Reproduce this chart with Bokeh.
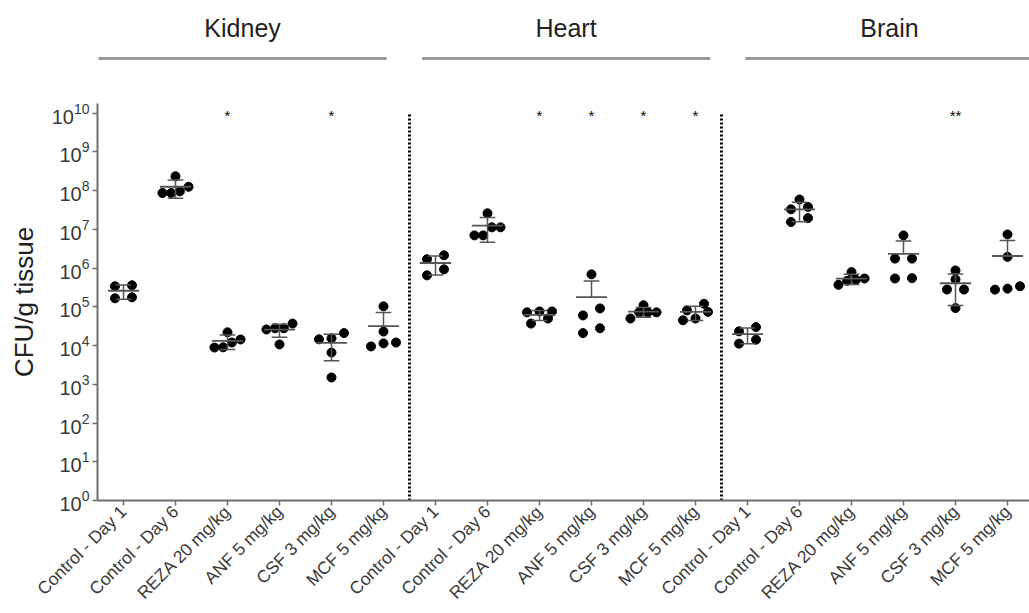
import numpy as np
from bokeh.plotting import figure
from bokeh.layouts import column
from bokeh.models import Range1d, FixedTicker, LogTickFormatter
from bokeh.embed import file_html
from bokeh.resources import INLINE
from bokeh.core.properties import value

# ---------------- data ----------------
organs = ["Kidney", "Heart", "Brain"]
treatments = ["Control - Day 1", "Control - Day 6", "REZA 20 mg/kg",
              "ANF 5 mg/kg", "CSF 3 mg/kg", "MCF 5 mg/kg"]

kidney_control_d1 = [3.6e5, 3.4e5, 1.76e5, 1.66e5]
kidney_control_d6 = [2.35e8, 1.26e8, 9.6e7, 8.7e7, 8.7e7]
kidney_reza20 = [2.2e4, 1.44e4, 1.2e4, 9.0e3, 8.9e3]
kidney_anf5 = [3.7e4, 2.8e4, 2.8e4, 2.6e4, 1.07e4]
kidney_csf3 = [2.1e4, 1.54e4, 1.45e4, 6.6e3, 1.5e3]
kidney_mcf5 = [1.03e5, 2.3e4, 1.2e4, 1.14e4, 9.5e3]

heart_control_d1 = [2.14e6, 1.7e6, 9.3e5, 6.5e5]
heart_control_d6 = [2.6e7, 1.13e7, 1.13e7, 7.0e6, 7.0e6]
heart_reza20 = [7.6e4, 7.6e4, 7.2e4, 5.0e4, 3.7e4]
heart_anf5 = [6.9e5, 9.1e4, 6.0e4, 2.8e4, 2.1e4]
heart_csf3 = [1.1e5, 7.2e4, 7.2e4, 7.2e4, 5.0e4]
heart_mcf5 = [1.2e5, 8.1e4, 7.4e4, 5.0e4, 4.5e4]

brain_control_d1 = [3.0e4, 2.33e4, 1.42e4, 1.12e4]
brain_control_d6 = [5.9e7, 3.8e7, 3.3e7, 1.96e7, 1.55e7]
brain_reza20 = [7.9e5, 5.4e5, 5.0e5, 4.7e5, 3.7e5]
brain_anf5 = [7.0e6, 1.76e6, 1.76e6, 5.5e5, 5.4e5]
brain_csf3 = [8.7e5, 5.1e5, 2.8e5, 2.8e5, 9.3e4]
brain_mcf5 = [7.4e6, 1.95e6, 3.4e5, 2.95e5, 2.78e5]

kidney_sig = ["", "", "*", "", "*", ""]
heart_sig = ["", "", "*", "*", "*", "*"]
brain_sig = ["", "", "", "", "**", ""]

y_tick_exponents = list(range(0, 11))

groups = [
    kidney_control_d1, kidney_control_d6, kidney_reza20, kidney_anf5, kidney_csf3, kidney_mcf5,
    heart_control_d1, heart_control_d6, heart_reza20, heart_anf5, heart_csf3, heart_mcf5,
    brain_control_d1, brain_control_d6, brain_reza20, brain_anf5, brain_csf3, brain_mcf5,
]
sig = kidney_sig + heart_sig + brain_sig
labels = treatments * len(organs)
n_groups = len(groups)
per_organ = len(treatments)

# ---------------- layout constants ----------------
W = 1029
HEADER_H = 100
LEFT = 97
PX_UNIT = 52.0
DEC_PX = 38.7
TOP_EXP = 10.25
FRAME_H = int(round(TOP_EXP * DEC_PX))
TOP_B = 3
BOTTOM_B = 113
MAIN_H = TOP_B + FRAME_H + BOTTOM_B
x_start = -0.5
x_end = x_start + (W - LEFT) / PX_UNIT
FONT = "Liberation Sans"
ROW_TOL = 8.5


def swarm(vals):
    ys = np.log10(np.asarray(vals, dtype=float)) * DEC_PX
    order = np.argsort(ys)
    rows = []
    for idx in order:
        if rows and ys[idx] - ys[rows[-1][0]] < ROW_TOL:
            rows[-1].append(idx)
        else:
            rows.append([idx])
    offs = np.zeros(len(vals))
    for r in rows:
        n = len(r)
        gap = {1: 0.0, 2: 17.0, 3: 12.5}.get(n, 8.7)
        for k, idx in enumerate(r):
            offs[idx] = (k - (n - 1) / 2) * gap / PX_UNIT
    return offs


xr = Range1d(x_start, x_end)

# ---------------- header figure ----------------
hdr = figure(width=W, height=HEADER_H, x_range=xr, y_range=Range1d(0, HEADER_H),
             output_backend="svg", toolbar_location=None,
             x_axis_type=None, y_axis_type=None,
             min_border_left=LEFT, min_border_right=0, min_border_top=0, min_border_bottom=0)
hdr.grid.visible = False
hdr.outline_line_color = None
hdr.background_fill_color = "white"
centers = [2.29 + 6.22 * g for g in range(len(organs))]
half = 2.77
hdr.segment(x0=[c - half for c in centers], y0=[HEADER_H - 58] * 3,
            x1=[c + half for c in centers], y1=[HEADER_H - 58] * 3,
            line_color="#9a9a9a", line_width=3)
hdr.text(x=centers, y=[HEADER_H - 27] * 3, text=organs,
         text_font=value(FONT), text_font_size="25px", text_color="#222222",
         text_align="center", text_baseline="middle")

# ---------------- main figure ----------------
p = figure(width=W, height=MAIN_H, x_range=xr,
           y_range=Range1d(1, 10 ** TOP_EXP), y_axis_type="log",
           output_backend="svg", toolbar_location=None,
           min_border_left=LEFT, min_border_right=0,
           min_border_top=TOP_B, min_border_bottom=BOTTOM_B)
p.grid.visible = False
p.outline_line_color = None

# separators
seps = [per_organ * g - 0.5 for g in range(1, len(organs))]
p.segment(x0=seps, y0=[1] * len(seps), x1=seps, y1=[1e10] * len(seps),
          line_color="black", line_width=3, line_dash="2 2")

# dots
xs, ys = [], []
for i, vals in enumerate(groups):
    offs = swarm(vals)
    xs.extend(i + offs)
    ys.extend(vals)
p.scatter(xs, ys, size=9, fill_color="black", line_color="black")

# mean +/- SD
mx0, mx1, my = [], [], []
vx, vy0, vy1 = [], [], []
cx0, cx1, cy = [], [], []
for i, vals in enumerate(groups):
    a = np.asarray(vals, dtype=float)
    m = a.mean()
    sd = a.std(ddof=1)
    hi = m + sd
    lo = m - sd
    mx0.append(i - 0.3); mx1.append(i + 0.3); my.append(m)
    cx0.append(i - 0.15); cx1.append(i + 0.15); cy.append(hi)
    if lo > 0:
        cx0.append(i - 0.15); cx1.append(i + 0.15); cy.append(lo)
        vx.append(i); vy0.append(lo); vy1.append(hi)
    else:
        vx.append(i); vy0.append(m); vy1.append(hi)
p.segment(x0=mx0, y0=my, x1=mx1, y1=my, line_color="#555555", line_width=1.8)
p.segment(x0=vx, y0=vy0, x1=vx, y1=vy1, line_color="#555555", line_width=1.5)
p.segment(x0=cx0, y0=cy, x1=cx1, y1=cy, line_color="#555555", line_width=1.5)

# significance marks
sx = [i for i in range(n_groups) if sig[i]]
st = [sig[i] for i in sx]
p.text(x=sx, y=[1e10] * len(sx), text=st, text_font=value(FONT),
       text_font_size="15px", text_color="black", text_align="center",
       text_baseline="middle", y_offset=2)

# axes
p.xaxis.ticker = FixedTicker(ticks=list(range(n_groups)))
p.xaxis.major_label_overrides = {i: labels[i] for i in range(n_groups)}
p.xaxis.major_label_orientation = np.pi / 4
p.xaxis.major_label_text_font = FONT
p.xaxis.major_label_text_font_size = "17.5px"
p.xaxis.major_label_text_color = "#3a3a3a"
p.xaxis.minor_tick_line_color = None

p.yaxis.ticker = FixedTicker(ticks=[10.0 ** k for k in y_tick_exponents], minor_ticks=[])
p.yaxis.formatter = LogTickFormatter()
p.yaxis.major_label_text_font = FONT
p.yaxis.major_label_text_font_size = "20px"
p.yaxis.major_label_text_color = "#3a3a3a"
p.yaxis.axis_label = "CFU/g tissue"
p.yaxis.axis_label_text_font = FONT
p.yaxis.axis_label_text_font_size = "26px"
p.yaxis.axis_label_text_font_style = "normal"
p.yaxis.axis_label_text_color = "#222222"
p.yaxis.axis_label_standoff = 10

for ax in (p.xaxis, p.yaxis):
    ax.axis_line_color = "#6e6e6e"
    ax.axis_line_width = 2
    ax.major_tick_line_color = "#6e6e6e"
    ax.major_tick_line_width = 1.5
    ax.major_tick_out = 5
    ax.major_tick_in = 0
    ax.major_label_standoff = 3

layout = column(hdr, p, spacing=0)
open("out.html", "w").write(file_html(layout, INLINE))
